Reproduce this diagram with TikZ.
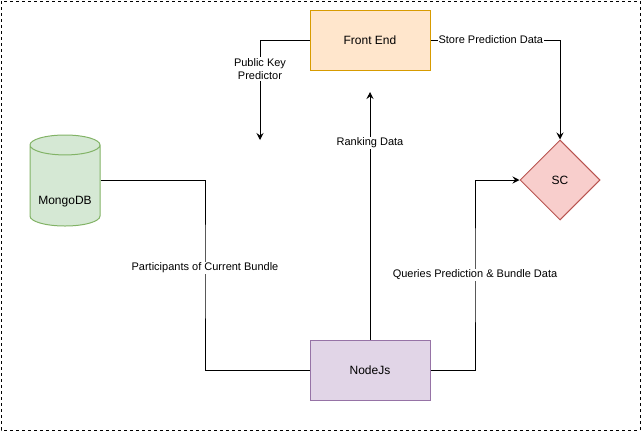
\documentclass[tikz,border=0pt]{standalone}
\usepackage{fontspec}
\setmainfont{Liberation Sans}
\usetikzlibrary{shapes.geometric,arrows.meta}
\definecolor{feFill}{HTML}{FFE6CC}
\definecolor{feLine}{HTML}{D79B00}
\definecolor{njFill}{HTML}{E1D5E7}
\definecolor{njLine}{HTML}{9673A6}
\definecolor{scFill}{HTML}{F8CECC}
\definecolor{scLine}{HTML}{B85450}
\definecolor{dbFill}{HTML}{D5E8D4}
\definecolor{dbLine}{HTML}{82B366}

\begin{document}
\begin{tikzpicture}[x=1bp, y=-1bp, line width=1bp,
  every node/.style={font=\fontsize{12bp}{14bp}\selectfont},
  box/.style={draw, rectangle, minimum width=120bp, minimum height=60bp},
  lbl/.style={fill=white, inner sep=1bp, font=\fontsize{11bp}{13bp}\selectfont, align=center},
  arr/.style={-{Stealth[length=7bp, width=7bp, inset=2.5bp]}}]
\useasboundingbox (0,0) rectangle (641,431);
\draw[dash pattern=on 3bp off 3bp] (1,1) rectangle (640,430);
\node[box, draw=feLine, fill=feFill] (FrontEnd) at (370,40) {Front End};
\node[box, draw=njLine, fill=njFill] (NodeJs) at (370,370) {NodeJs};
\node[diamond, draw=scLine, fill=scFill, minimum width=80bp, minimum height=80bp, inner sep=0pt] (SC) at (560,180) {SC};
\node[cylinder, shape border rotate=90, aspect=3, draw=dbLine, fill=dbFill, minimum width=70bp, minimum height=91bp, anchor=shape center, label={[yshift=-14bp]center:MongoDB}] (MongoDB) at (65,180.5) {};
\coordinate (PKend) at (260,140);
\coordinate (RDend) at (370,92);
\draw[arr] (FrontEnd.west) -| (PKend) node[lbl, pos=0.645] {Public Key\\Predictor};
\draw[arr] (FrontEnd.east) -| (SC.north) node[lbl, pos=0.233] {Store Prediction Data};
\draw[arr] (NodeJs.north) -- (RDend) node[lbl, pos=0.794] {Ranking Data};
\draw (MongoDB.east |- MongoDB.shape center) -| (205,268) node[lbl] {Participants of Current Bundle} |- (NodeJs.west);
\draw[arr] (NodeJs.east) -| (475,275) node[lbl] {Queries Prediction \& Bundle Data} |- (SC.west);
\end{tikzpicture}
\end{document}
